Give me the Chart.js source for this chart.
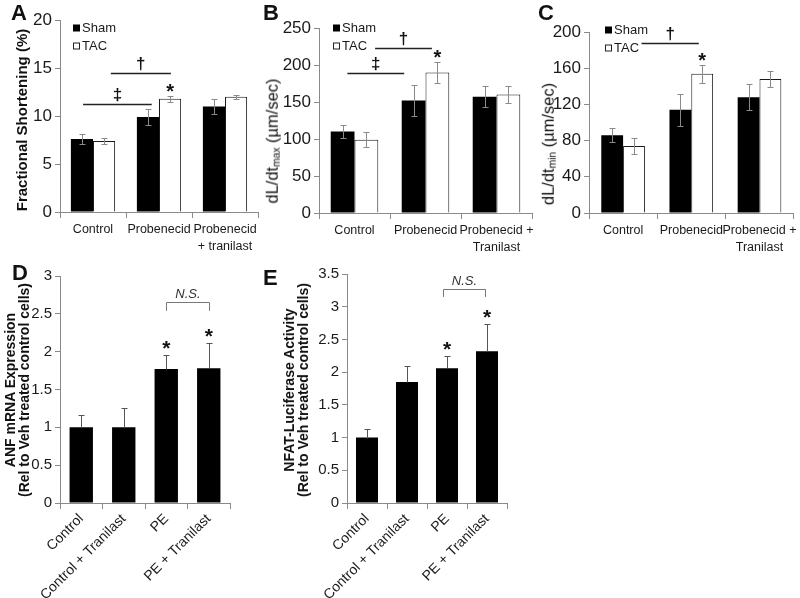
<!DOCTYPE html>
<html><head><meta charset="utf-8">
<script src="https://cdn.jsdelivr.net/npm/chart.js@4.4.0/dist/chart.umd.min.js"></script>
<style>
html,body{margin:0;padding:0;background:#fff;}
#wrap{position:relative;width:800px;height:598px;overflow:hidden;font-family:"Liberation Sans",Arial,sans-serif;color:#111;}
canvas{position:absolute;}
.lt{position:absolute;font-weight:bold;font-size:22px;line-height:1;}
.yt{position:absolute;transform:translate(-50%,-50%) rotate(-90deg);white-space:nowrap;text-align:center;line-height:1;}
.yt sub{font-size:62%;vertical-align:-0.2em;line-height:0;}
</style></head><body>
<div id="wrap">
  <canvas id="cA" width="265" height="290" style="left:0;top:0"></canvas>
  <canvas id="cB" width="290" height="290" style="left:262px;top:0"></canvas>
  <canvas id="cC" width="270" height="290" style="left:530px;top:0"></canvas>
  <canvas id="cD" width="250" height="336" style="left:0;top:262px"></canvas>
  <canvas id="cE" width="260" height="336" style="left:262px;top:262px"></canvas>
  <div class="lt" style="left:11px;top:2px">A</div>
  <div class="lt" style="left:263px;top:2px">B</div>
  <div class="lt" style="left:538px;top:2px">C</div>
  <div class="lt" style="left:12px;top:262px">D</div>
  <div class="lt" style="left:263px;top:267px">E</div>
  <div class="yt" style="left:21px;top:120px;font-weight:bold;font-size:15px">Fractional Shortening (%)</div>
  <div class="yt" style="left:272px;top:141px;font-size:16.5px">dL/dt<sub>max</sub> (µm/sec)</div>
  <div class="yt" style="left:548px;top:144px;font-size:16.5px">dL/dt<sub>min</sub> (µm/sec)</div>
  <div class="yt" style="left:17px;top:390px;font-weight:bold;font-size:14px">ANF mRNA Expression<br>(Rel to Veh treated control cells)</div>
  <div class="yt" style="left:296px;top:390px;font-weight:bold;font-size:14px">NFAT-Luciferase Activity<br>(Rel to Veh treated control cells)</div>
</div>
<script>
// ---------- data ----------
const seriesNames = ['Sham', 'TAC'];
const groupsA = ['Control', 'Probenecid', ['Probenecid', '+ tranilast']];
const groupsBC = ['Control', 'Probenecid', ['Probenecid +', 'Tranilast']];
const groupsDE = ['Control', 'Control + Tranilast', 'PE', 'PE + Tranilast'];

const shamA = [7.6, 9.9, 11.0];
const shamAErr = [0.5, 0.85, 0.75];
const tacA = [7.4, 11.8, 12.0];
const tacAErr = [0.3, 0.3, 0.2];
const yTicksA = ['0', '5', '10', '15', '20'];

const shamB = [110, 152, 157];
const shamBErr = [9, 21, 14];
const tacB = [99, 190, 160];
const tacBErr = [10, 14, 12];
const yTicksB = ['0', '50', '100', '150', '200', '250'];

const shamC = [86, 114, 128];
const shamCErr = [8, 18, 14];
const tacC = [74, 154, 148];
const tacCErr = [9, 10, 9];
const yTicksC = ['0', '40', '80', '120', '160', '200'];

const anfD = [1.0, 1.0, 1.77, 1.78];
const anfDErr = [0.16, 0.26, 0.18, 0.33];
const yTicksD = ['0', '0.5', '1', '1.5', '2', '2.5', '3'];

const nfatE = [1.0, 1.85, 2.06, 2.32];
const nfatEErr = [0.13, 0.25, 0.18, 0.42];
const yTicksE = ['0', '0.5', '1', '1.5', '2', '2.5', '3', '3.5'];

// ---------- styling ----------
const FONT = '"Liberation Sans", Arial, sans-serif';
const AXIS = '#8a8a8a';
const TXT = '#1a1a1a';

const decorPlugin = {
  id: 'decor',
  afterDatasetsDraw(chart) {
    const o = chart.options.plugins.decor || {};
    const ctx = chart.ctx, xs = chart.scales.x, ys = chart.scales.y;
    const ca = chart.chartArea;
    ctx.save();
    // error bars
    chart.data.datasets.forEach((ds, di) => {
      const meta = chart.getDatasetMeta(di);
      meta.data.forEach((el, i) => {
        const v = ds.data[i], e = ds.err[i];
        const x = Math.round(el.x) + 0.5;
        const top = Math.round(ys.getPixelForValue(v + e)) + 0.5;
        const bot = Math.round(o.upOnly ? ys.getPixelForValue(v) : ys.getPixelForValue(v - e)) + 0.5;
        ctx.strokeStyle = o.errColor; ctx.lineWidth = 1;
        ctx.beginPath();
        ctx.moveTo(x, top); ctx.lineTo(x, bot);
        ctx.moveTo(x - o.cap, top); ctx.lineTo(x + o.cap, top);
        if (!o.upOnly) { ctx.moveTo(x - o.cap, bot); ctx.lineTo(x + o.cap, bot); }
        ctx.stroke();
      });
    });
    // asterisks
    ctx.fillStyle = '#111';
    ctx.textAlign = 'center';
    ctx.textBaseline = 'alphabetic';
    (o.stars || []).forEach(s => {
      const ds = chart.data.datasets[s.ds];
      const el = chart.getDatasetMeta(s.ds).data[s.i];
      const top = ys.getPixelForValue(ds.data[s.i] + ds.err[s.i]);
      ctx.font = 'bold ' + o.starSize + 'px ' + FONT;
      ctx.fillText('*', el.x, top + o.starGap);
    });
    // significance lines
    (o.sig || []).forEach(s => {
      const x1 = xs.getPixelForValue(s.from), x2 = xs.getPixelForValue(s.to);
      const y = Math.round(ys.getPixelForValue(s.y)) + 0.5;
      ctx.strokeStyle = '#222'; ctx.lineWidth = 1.6;
      ctx.beginPath(); ctx.moveTo(x1, y); ctx.lineTo(x2, y); ctx.stroke();
      ctx.font = 'bold 17px ' + FONT;
      ctx.fillText(s.sym, (x1 + x2) / 2, y - 5);
    });
    // brackets
    (o.brackets || []).forEach(b => {
      const x1 = Math.round(xs.getPixelForValue(b.from)) + 0.5, x2 = Math.round(xs.getPixelForValue(b.to)) + 0.5;
      const y = Math.round(ys.getPixelForValue(b.y)) + 0.5, yd = ys.getPixelForValue(b.drop);
      ctx.strokeStyle = '#777'; ctx.lineWidth = 1;
      ctx.beginPath(); ctx.moveTo(x1, yd); ctx.lineTo(x1, y); ctx.lineTo(x2, y); ctx.lineTo(x2, yd); ctx.stroke();
      ctx.font = 'italic 13px ' + FONT;
      ctx.fillStyle = '#333';
      ctx.fillText(b.label, (x1 + x2) / 2, y - 5);
    });
    // legend
    if (o.legend) {
      const L = o.legend;
      ctx.font = L.size + 'px ' + FONT;
      ctx.textAlign = 'left'; ctx.textBaseline = 'middle';
      chart.data.datasets.forEach((ds, di) => {
        const lx = ca.left + L.dx, ly = ca.top + L.dy + di * L.gap;
        if (ds.borderWidth) {
          ctx.fillStyle = '#fff'; ctx.fillRect(lx, ly - 3.5, 7, 7);
          ctx.strokeStyle = '#222'; ctx.lineWidth = 1; ctx.strokeRect(lx + 0.5, ly - 3, 6, 6);
        } else {
          ctx.fillStyle = '#000'; ctx.fillRect(lx, ly - 3.5, 7, 7);
        }
        ctx.fillStyle = TXT;
        ctx.fillText(ds.label, lx + 9, ly + 0.5);
      });
    }
    ctx.restore();
  }
};

function buildChart(id, cfg) {
  const cv = document.getElementById(id);
  const W = cv.width, H = cv.height, a = cfg.area;
  return new Chart(cv, {
    type: 'bar',
    data: { labels: cfg.labels, datasets: cfg.datasets },
    options: {
      responsive: false, animation: false, devicePixelRatio: 1,
      layout: { padding: { left: 0, top: a.top, right: W - a.right, bottom: 0 } },
      plugins: { legend: { display: false }, tooltip: { enabled: false }, decor: cfg.decor },
      scales: {
        x: {
          offset: true,
          grid: { offset: true, drawOnChartArea: false, drawTicks: true, tickLength: 6, color: AXIS, lineWidth: 1 },
          border: { display: true, color: AXIS, width: 1 },
          ticks: { color: TXT, font: { family: FONT, size: cfg.xFont, lineHeight: 1.35 }, padding: cfg.xPad,
                   maxRotation: cfg.rot, minRotation: cfg.rot, autoSkip: false },
          afterFit: s => { s.height = H - a.bottom; }
        },
        y: {
          min: 0, max: cfg.yMax,
          ticks: { stepSize: cfg.yStep, color: TXT, font: { family: FONT, size: cfg.yFont }, padding: 3,
                   callback: (v, i) => cfg.yTicks[i] },
          grid: { drawOnChartArea: false, drawTicks: true, tickLength: 5, color: AXIS, lineWidth: 1 },
          border: { display: true, color: AXIS, width: 1 },
          afterFit: s => { s.width = a.left; }
        }
      }
    },
    plugins: [decorPlugin]
  });
}

function pairSets(sham, shamErr, tac, tacErr, pct) {
  return [
    { label: seriesNames[0], data: sham, err: shamErr, backgroundColor: '#000', borderWidth: 0,
      categoryPercentage: pct, barPercentage: 1 },
    { label: seriesNames[1], data: tac, err: tacErr, backgroundColor: '#fff', borderColor: '#1a1a1a', borderWidth: 1,
      categoryPercentage: pct, barPercentage: 1 }
  ];
}

buildChart('cA', {
  labels: groupsA, datasets: pairSets(shamA, shamAErr, tacA, tacAErr, 0.67),
  area: { left: 60, right: 258, top: 20, bottom: 212 },
  yMax: 20, yStep: 5, yTicks: yTicksA, yFont: 17, xFont: 12.5, xPad: 3, rot: 0,
  decor: { errColor: '#8a8a8a', cap: 3, stars: [{ ds: 1, i: 1 }], starSize: 20, starGap: 2,
           sig: [{ from: -0.15, to: 0.89, y: 11.25, sym: '‡' }, { from: 0.27, to: 1.18, y: 14.5, sym: '†' }],
           legend: { dx: 13, dy: 8, gap: 18, size: 13 } }
});

buildChart('cB', {
  labels: groupsBC, datasets: pairSets(shamB, shamBErr, tacB, tacBErr, 0.67),
  area: { left: 57, right: 270, top: 28, bottom: 213 },
  yMax: 250, yStep: 50, yTicks: yTicksB, yFont: 17, xFont: 12.5, xPad: 3, rot: 0,
  decor: { errColor: '#8a8a8a', cap: 3, stars: [{ ds: 1, i: 1 }], starSize: 20, starGap: 2,
           sig: [{ from: -0.1, to: 0.7, y: 189, sym: '‡' }, { from: 0.29, to: 1.09, y: 223, sym: '†' }],
           legend: { dx: 14, dy: 0, gap: 18, size: 13 } }
});

buildChart('cC', {
  labels: groupsBC, datasets: pairSets(shamC, shamCErr, tacC, tacCErr, 0.64),
  area: { left: 59, right: 267, top: 32, bottom: 213 },
  yMax: 200, yStep: 40, yTicks: yTicksC, yFont: 17, xFont: 12.5, xPad: 3, rot: 0,
  decor: { errColor: '#8a8a8a', cap: 3, stars: [{ ds: 1, i: 1 }], starSize: 20, starGap: 2,
           sig: [{ from: 0.27, to: 1.11, y: 188, sym: '†' }],
           legend: { dx: 16, dy: -2, gap: 18, size: 13 } }
});

buildChart('cD', {
  labels: groupsDE,
  datasets: [{ label: 'ANF', data: anfD, err: anfDErr, backgroundColor: '#000', borderWidth: 0,
               categoryPercentage: 0.55, barPercentage: 1 }],
  area: { left: 60, right: 230, top: 14, bottom: 241 },
  yMax: 3, yStep: 0.5, yTicks: yTicksD, yFont: 15, xFont: 14, xPad: 1, rot: 45,
  decor: { errColor: '#555', cap: 3, upOnly: true, stars: [{ ds: 0, i: 2 }, { ds: 0, i: 3 }], starSize: 21, starGap: 0,
           brackets: [{ from: 2, to: 3, y: 2.66, drop: 2.54, label: 'N.S.' }] }
});

buildChart('cE', {
  labels: groupsDE,
  datasets: [{ label: 'NFAT', data: nfatE, err: nfatEErr, backgroundColor: '#000', borderWidth: 0,
               categoryPercentage: 0.55, barPercentage: 1 }],
  area: { left: 85, right: 245, top: 12, bottom: 241 },
  yMax: 3.5, yStep: 0.5, yTicks: yTicksE, yFont: 15, xFont: 14, xPad: 1, rot: 45,
  decor: { errColor: '#555', cap: 3, upOnly: true, stars: [{ ds: 0, i: 2 }, { ds: 0, i: 3 }], starSize: 21, starGap: 0,
           brackets: [{ from: 1.9, to: 2.95, y: 3.27, drop: 3.15, label: 'N.S.' }] }
});
</script>
</body></html>
